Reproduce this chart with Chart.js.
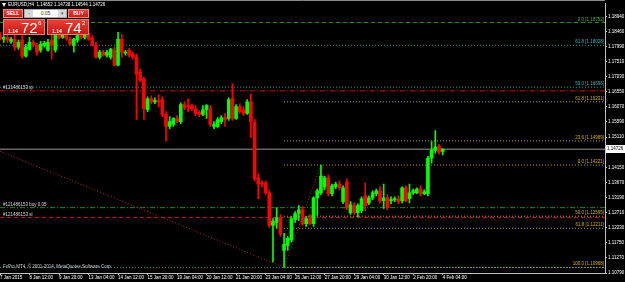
<!DOCTYPE html>
<html>
<head>
<meta charset="utf-8">
<script src="https://cdn.jsdelivr.net/npm/chart.js@4.4.1/dist/chart.umd.min.js"></script>
<style>
  html, body { margin: 0; padding: 0; background: #000; overflow: hidden; }
  #marco { position: relative; width: 625px; height: 282px; }
  canvas { display: block; }
  .ot { position: absolute; box-sizing: border-box; font-family: "Liberation Sans", Arial, sans-serif; color: #fff; }
  .bt { background: linear-gradient(#e8443c, #c81c14); border: 1px solid #f08a84; font-size: 5px; font-weight: bold; line-height: 7px; text-align: center; }
  .sp { background: #fff; border: 1px solid #aaa; color: #333; font-size: 5px; line-height: 7px; text-align: center; }
  .sp span { position: absolute; top: 0; width: 8px; height: 7px; background: #d8d8d8; color: #555; font-size: 5px; line-height: 7px; }
  .px { background: linear-gradient(#ea4038, #c41810); border: 1px solid #f07a74; }
  .px .sm { position: absolute; left: 4px; top: 8px; font-size: 5px; font-weight: bold; }
  .px .gr { position: absolute; left: 17px; top: 0px; font-size: 15px; line-height: 15px; }
  .px .su { position: absolute; left: 34px; top: 0px; font-size: 6px; line-height: 6px; }
</style>
</head>
<body>
<div id="marco">
  <canvas id="grafico" width="625" height="282"></canvas>
  <div class="ot bt" style="left:3px;top:9px;width:20px;height:9px">SELL</div>
  <div class="ot sp" style="left:24px;top:9px;width:43px;height:9px"><span style="left:0">-</span>0.05<span style="right:0">▾</span></div>
  <div class="ot bt" style="left:68px;top:9px;width:21px;height:9px">BUY</div>
  <div class="ot px" style="left:3px;top:19px;width:42px;height:16px"><span class="sm">1.14</span><span class="gr">72</span><span class="su">6</span></div>
  <div class="ot px" style="left:47px;top:19px;width:42px;height:16px"><span class="sm">1.14</span><span class="gr">74</span><span class="su">2</span></div>
</div>
<script>
// velas H4 EURUSD, 7 ene 04:00 -> 4 feb 04:00
var aperturas = [
  1.1834,1.1822,1.1828,1.1815,1.1822,1.1797,1.1819,1.1768,1.1790,1.1812,
  1.1803,1.1787,1.1803,1.1787,1.1819,1.1787,1.1837,1.1828,1.1844,1.1822,
  1.1803,1.1819,1.1834,1.1828,1.1841,1.1825,1.1803,1.1765,1.1781,1.1771,
  1.1765,1.1787,1.1740,1.1822,1.1778,1.1787,1.1775,1.1765,1.1718,1.1696,
  1.1598,1.1633,1.1623,1.1627,1.1630,1.1583,1.1545,1.1551,1.1570,1.1560,
  1.1614,1.1611,1.1611,1.1601,1.1589,1.1583,1.1598,1.1601,1.1545,1.1545,
  1.1560,1.1573,1.1570,1.1633,1.1570,1.1608,1.1598,1.1586,1.1623,1.1557,
  1.1381,1.1365,1.1365,1.1334,1.1230,1.1240,1.1255,1.1151,1.1167,1.1183,
  1.1249,1.1268,1.1280,1.1236,1.1252,1.1236,1.1318,1.1334,1.1353,1.1381,
  1.1331,1.1353,1.1362,1.1306,1.1368,1.1271,1.1293,1.1271,1.1277,1.1324,
  1.1302,1.1318,1.1331,1.1340,1.1309,1.1318,1.1309,1.1312,1.1315,1.1309,
  1.1350,1.1315,1.1334,1.1334,1.1346,1.1331,1.1331,1.1444,1.1469,1.1482,
  1.14652
];
var maximos = [
  1.1844,1.1834,1.1837,1.1828,1.1834,1.1819,1.1834,1.1806,1.1828,1.1819,
  1.1809,1.1815,1.1815,1.1822,1.1837,1.1850,1.1847,1.1850,1.1853,1.1828,
  1.1825,1.1841,1.1847,1.1844,1.1856,1.1834,1.1812,1.1787,1.1787,1.1787,
  1.1793,1.1797,1.1844,1.1837,1.1787,1.1793,1.1781,1.1775,1.1727,1.1702,
  1.1639,1.1642,1.1636,1.1645,1.1639,1.1592,1.1576,1.1573,1.1579,1.1620,
  1.1623,1.1633,1.1617,1.1611,1.1595,1.1611,1.1614,1.1611,1.1560,1.1573,
  1.1579,1.1586,1.1636,1.1680,1.1614,1.1617,1.1608,1.1630,1.1648,1.1567,
  1.1394,1.1372,1.1372,1.1343,1.1252,1.1287,1.1265,1.1205,1.1195,1.1258,
  1.1274,1.1293,1.1290,1.1258,1.1265,1.1321,1.1346,1.1422,1.1387,1.1390,
  1.1362,1.1368,1.1372,1.1356,1.1378,1.1306,1.1302,1.1299,1.1321,1.1365,
  1.1324,1.1340,1.1346,1.1353,1.1362,1.1328,1.1321,1.1321,1.1324,1.1353,
  1.1356,1.1362,1.1346,1.1350,1.1356,1.1343,1.1450,1.1497,1.1532,1.1488,
  1.14738
];
var minimos = [
  1.1819,1.1812,1.1812,1.1809,1.1787,1.1790,1.1762,1.1765,1.1787,1.1797,
  1.1771,1.1781,1.1797,1.1784,1.1759,1.1781,1.1822,1.1825,1.1819,1.1803,
  1.1781,1.1812,1.1822,1.1822,1.1819,1.1800,1.1762,1.1759,1.1768,1.1765,
  1.1759,1.1737,1.1737,1.1765,1.1771,1.1765,1.1759,1.1567,1.1686,1.1567,
  1.1592,1.1617,1.1617,1.1608,1.1576,1.1498,1.1538,1.1545,1.1557,1.1554,
  1.1598,1.1592,1.1595,1.1579,1.1576,1.1579,1.1570,1.1545,1.1538,1.1542,
  1.1554,1.1545,1.1564,1.1564,1.1567,1.1586,1.1579,1.1583,1.1510,1.1372,
  1.1315,1.1353,1.1328,1.1224,1.1114,1.1221,1.1195,1.1097,1.1151,1.1177,
  1.1240,1.1246,1.1230,1.1227,1.1233,1.1227,1.1262,1.1328,1.1343,1.1324,
  1.1324,1.1346,1.1343,1.1299,1.1280,1.1265,1.1265,1.1258,1.1271,1.1277,
  1.1296,1.1312,1.1324,1.1302,1.1284,1.1280,1.1299,1.1306,1.1299,1.1302,
  1.1306,1.1302,1.1328,1.1331,1.1324,1.1328,1.1324,1.1428,1.1460,1.1457,
  1.14544
];
var cierres = [
  1.1825,1.1828,1.1819,1.1822,1.1797,1.1812,1.1768,1.1797,1.1812,1.1803,
  1.1781,1.1806,1.1809,1.1812,1.1803,1.1837,1.1828,1.1844,1.1825,1.1806,
  1.1822,1.1834,1.1828,1.1837,1.1822,1.1803,1.1765,1.1781,1.1771,1.1781,
  1.1790,1.1740,1.1822,1.1781,1.1781,1.1771,1.1765,1.1711,1.1693,1.1601,
  1.1633,1.1623,1.1627,1.1623,1.1583,1.1545,1.1560,1.1570,1.1560,1.1614,
  1.1605,1.1608,1.1601,1.1586,1.1583,1.1598,1.1611,1.1551,1.1551,1.1567,
  1.1573,1.1567,1.1630,1.1570,1.1608,1.1592,1.1586,1.1623,1.1560,1.1378,
  1.1362,1.1362,1.1334,1.1230,1.1243,1.1255,1.1205,1.1170,1.1189,1.1252,
  1.1268,1.1280,1.1236,1.1252,1.1236,1.1318,1.1340,1.1387,1.1381,1.1331,
  1.1356,1.1362,1.1350,1.1350,1.1287,1.1296,1.1271,1.1293,1.1315,1.1293,
  1.1318,1.1334,1.1340,1.1309,1.1318,1.1287,1.1312,1.1315,1.1306,1.1350,
  1.1309,1.1334,1.1340,1.1346,1.1331,1.1337,1.1444,1.1469,1.1479,1.1463,
  1.14726
];

var huecos = 165; // posiciones de barra en el eje, incluido el margen derecho vacio
var ejeY = [1.18940,1.18460,1.17990,1.17510,1.17030,1.16550,1.16070,1.15590,1.15110,
            1.14630,1.14150,1.13670,1.13190,1.12710,1.12230,1.11750,1.11270,1.10790];
var yMin = 1.10790, yMax = 1.19350;
var marcasX = [0,8,16,24,32,40,48,56,64,72,80,88,96,104,112,120];
var textosX = ['7 Jan 2015','8 Jan 12:00','9 Jan 20:00','13 Jan 04:00','14 Jan 12:00','15 Jan 20:00',
               '19 Jan 04:00','20 Jan 12:00','21 Jan 20:00','23 Jan 04:00','26 Jan 12:00','27 Jan 20:00',
               '29 Jan 04:00','30 Jan 12:00','2 Feb 20:00','4 Feb 04:00'];

var tituloTexto = 'EURUSD,H4  1.14652 1.14738 1.14544 1.14726';
var copyTexto = 'FxPro MT4, \u00a9 2001-2014, MetaQuotes Software Corp.';
var precioBid = 1.14726;

// niveles fibo (texto a la derecha)
var fiboPrecios = [1.18752,1.18028,1.16696,1.16231,1.14989,1.14221,1.12595,1.12211,1.10968,1.10968];
var fiboTextos  = ['0.0 [1.18752]','61.8 [1.18028]','50.0 [1.16696]','61.8 [1.16231]','23.6 [1.14989]',
                   '0.0 [1.14221]','50.0 [1.12595]','61.8 [1.12211]','','100.0 [1.10968]'];
var fiboDesde   = [0,0,0,77,77,77,77,77,0,77];
var fiboTipo    = ['verde','cian','cian','oro','oro','oro','oro','oro','cian','oro'];

// lineas de la orden (texto a la izquierda)
var ordenPrecios = [1.16580, 1.12867, 1.12550];
var ordenTextos  = ['#121486153 tp', '#121486153 buy 0.05', '#121486153 sl'];
var ordenTipo    = ['tp', 'buy', 'sl'];

// lineas de tendencia
var tendDesde = [0, 77], tendHasta = [77, 87];
var tendPrecioIni = [1.1466, 1.10968], tendPrecioFin = [1.10968, 1.14221];

var estilos = {
  verde: { color: '#238c23', texto: '#3fb83f', dash: [4, 3] },
  cian:  { color: '#2b9696', texto: '#3fb4b4', dash: [1, 2] },
  oro:   { color: '#c9a200', texto: '#d9b000', dash: [1, 2] },
  tp:    { color: '#cc1010', dash: [5, 2, 1, 2] },
  buy:   { color: '#1c8a1c', dash: [5, 2, 1, 2] },
  sl:    { color: '#dd1010', dash: [4, 3] }
};
var colorSube = '#00ff00', colorBaja = '#ff0000';
var fuente = '"Liberation Sans", Arial, sans-serif';

function tramo(i0, i1, p0, p1) {
  var d = [];
  for (var i = 0; i < huecos; i++) d.push(null);
  d[i0] = p0; d[i1] = p1;
  return d;
}
function linea(data, color, dash) {
  return { type: 'line', data: data, borderColor: color, borderDash: dash, borderWidth: 1,
           pointRadius: 0, spanGaps: true, order: 5 };
}

var etiquetas = [];
for (var i = 0; i < huecos; i++) etiquetas.push(i);
var colores = aperturas.map(function (o, i) { return cierres[i] >= o ? colorSube : colorBaja; });

var datasets = [];
// lineas detras de las velas
fiboPrecios.forEach(function (p, k) {
  var e = estilos[fiboTipo[k]];
  datasets.push(linea(tramo(fiboDesde[k], huecos - 1, p, p), e.color, e.dash));
});
ordenPrecios.forEach(function (p, k) {
  var e = estilos[ordenTipo[k]];
  datasets.push(linea(tramo(0, huecos - 1, p, p), e.color, e.dash));
});
tendDesde.forEach(function (a, k) {
  datasets.push(linea(tramo(a, tendHasta[k], tendPrecioIni[k], tendPrecioFin[k]), '#b02a2a', [1, 2]));
});
datasets.push(linea(tramo(0, huecos - 1, precioBid, precioBid), '#9a9a9a', []));
// mechas
datasets.push({ type: 'bar', data: minimos.map(function (l, i) { return [l, maximos[i]]; }),
  backgroundColor: colores, barThickness: 1, grouped: false, order: 2 });
// cuerpos
datasets.push({ type: 'bar', data: aperturas.map(function (o, i) { return [o, cierres[i]]; }),
  backgroundColor: colores, barThickness: 3, grouped: false, minBarLength: 1, order: 1 });

var rotulos = {
  id: 'rotulos',
  afterDraw: function (chart) {
    var ctx = chart.ctx, ya = chart.scales.y, area = chart.chartArea;
    ctx.save();
    // borde superior
    ctx.strokeStyle = '#8a8a8a'; ctx.lineWidth = 1;
    ctx.beginPath(); ctx.moveTo(0, 0.5); ctx.lineTo(area.right, 0.5); ctx.stroke();
    ctx.font = '4.5px ' + fuente;
    ctx.textBaseline = 'bottom';
    // textos fibo
    ctx.textAlign = 'right';
    fiboPrecios.forEach(function (p, k) {
      if (!fiboTextos[k]) return;
      ctx.fillStyle = estilos[fiboTipo[k]].texto;
      ctx.fillText(fiboTextos[k], area.right - 1, Math.round(ya.getPixelForValue(p)) - 0.5);
    });
    // textos orden
    ctx.textAlign = 'left';
    ctx.fillStyle = '#d8d8d8';
    ordenPrecios.forEach(function (p, k) {
      ctx.fillText(ordenTextos[k], 3, Math.round(ya.getPixelForValue(p)) - 1);
    });
    // titulo
    ctx.textBaseline = 'middle';
    ctx.fillStyle = '#ffffff';
    ctx.fillText(tituloTexto, 8, 5);
    ctx.beginPath(); ctx.moveTo(2, 3); ctx.lineTo(6, 3); ctx.lineTo(4, 7); ctx.closePath(); ctx.fill();
    ctx.fillStyle = '#c8c8c8';
    ctx.fillText(copyTexto, 3, 267);
    // caja del bid
    var yb = Math.round(ya.getPixelForValue(precioBid));
    ctx.fillStyle = '#ffffff';
    ctx.fillRect(area.right + 1, yb - 4, 20, 8);
    ctx.fillStyle = '#000000';
    ctx.fillText(precioBid.toFixed(5), area.right + 2, yb);
    ctx.restore();
  }
};

new Chart(document.getElementById('grafico'), {
  type: 'bar',
  data: { labels: etiquetas, datasets: datasets },
  options: {
    responsive: false,
    animation: false,
    events: [],
    layout: { padding: { top: 1, left: 0, right: 0, bottom: 0 } },
    plugins: { legend: { display: false }, tooltip: { enabled: false } },
    scales: {
      x: {
        type: 'category',
        offset: false,
        afterFit: function (s) { s.height = 9; },
        grid: {
          offset: false, drawOnChartArea: false, tickLength: 2,
          color: function (c) { return marcasX.indexOf(c.index) >= 0 ? '#c0c0c0' : 'rgba(0,0,0,0)'; }
        },
        border: { color: '#c0c0c0' },
        ticks: {
          autoSkip: false, maxRotation: 0, minRotation: 0, align: 'start', padding: 0,
          color: '#ffffff', font: { size: 4.5, family: fuente },
          callback: function (v, idx) { var k = marcasX.indexOf(idx); return k >= 0 ? textosX[k] : ''; }
        }
      },
      y: {
        position: 'right',
        min: yMin, max: yMax,
        afterBuildTicks: function (s) { s.ticks = ejeY.map(function (v) { return { value: v }; }); },
        afterFit: function (s) { s.width = 20; },
        grid: { drawOnChartArea: false, tickLength: 2, color: '#c0c0c0' },
        border: { color: '#c0c0c0' },
        ticks: {
          autoSkip: false, padding: 1, color: '#ffffff', font: { size: 4.5, family: fuente },
          callback: function (v) { return v.toFixed(5); }
        }
      }
    }
  },
  plugins: [rotulos]
});
</script>
</body>
</html>
